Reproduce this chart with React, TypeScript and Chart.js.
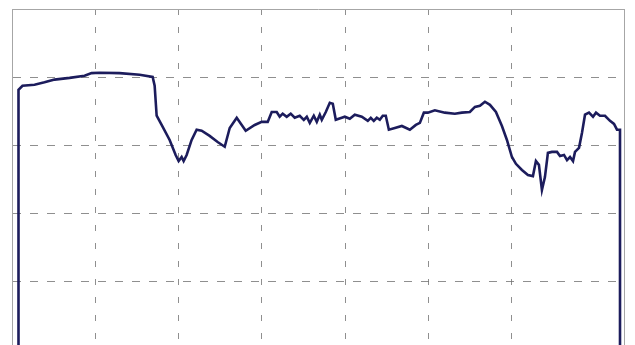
import React, { useEffect, useRef } from "react";
import { Chart, registerables } from "chart.js";

Chart.register(...registerables);

// Sample positions along the horizontal axis
const times: number[] = [
  0.78, 0.78, 1.26, 2.7, 3.9, 5.11, 6.91, 8.71, 9.55, 10.51, 12.91, 15.32, 16.88, 17.12, 17.36, 17.96,
  18.92, 19.64, 20.0, 20.36, 20.6, 20.96, 21.56, 22.16, 22.76, 23.72, 24.68, 25.53, 26.13, 26.97,
  28.05, 29.13, 29.97, 30.69, 31.17, 31.77, 32.13, 32.49, 32.97, 33.45, 33.93, 34.53, 35.02, 35.38,
  35.74, 36.22, 36.58, 36.94, 37.18, 37.66, 38.14, 38.5, 38.86, 39.58, 39.94, 40.54, 41.14, 41.98,
  42.7, 43.06, 43.42, 43.78, 44.14, 44.5, 44.86, 45.23, 45.95, 46.79, 47.75, 48.47, 48.95, 49.43,
  49.91, 50.75, 51.95, 53.15, 53.99, 54.95, 55.56, 56.16, 56.76, 57.36, 58.08, 58.8, 59.4, 60.0,
  60.48, 61.2, 61.92, 62.52, 62.88, 63.24, 63.6, 63.96, 64.32, 64.8, 65.41, 65.77, 66.25, 66.61,
  66.97, 67.33, 67.57, 68.05, 68.41, 68.77, 69.25, 69.73, 70.09, 70.57, 71.17, 71.77, 72.25, 72.61,
  72.97, 72.97,
];

// Measured level at each sample
const levels: number[] = [
  0, 76.3, 77.5, 77.8, 78.5, 79.3, 79.8, 80.4, 81.2, 81.3, 81.2, 80.7, 80.1, 77.5, 68.7, 66.0,
  61.6, 57.2, 55.4, 56.6, 55.4, 57.2, 61.6, 64.6, 64.3, 62.8, 61.0, 59.6, 65.1, 68.1,
  64.3, 66.0, 66.9, 66.9, 69.8, 69.8, 68.4, 69.3, 68.4, 69.3, 68.1, 68.7, 67.5, 68.4,
  66.6, 68.7, 66.9, 69.0, 67.5, 69.8, 72.5, 72.2, 67.5, 68.1, 68.4, 67.8, 69.0, 68.4,
  67.2, 68.1, 67.2, 68.1, 67.5, 68.7, 68.7, 64.6, 65.1, 65.7, 64.6, 66.0, 66.6, 69.6,
  69.6, 70.3, 69.6, 69.3, 69.6, 69.8, 71.3, 71.6, 72.8, 71.9, 69.8, 65.7, 61.6, 56.6,
  54.6, 52.8, 51.3, 51.0, 55.4, 54.3, 46.9, 50.7, 57.8, 58.1, 58.1, 56.9, 57.2, 55.7,
  56.6, 55.4, 58.1, 59.3, 63.7, 69.0, 69.6, 68.4, 69.6, 68.7, 68.7, 67.2, 66.3, 64.6,
  64.6, 0,
];

const X_MIN = 0;
const X_MAX = 73.45;
const X_STEP = 10;
const Y_MIN = 0;
const Y_MAX = 100;
const Y_STEP = 20;

const LINE_COLOR = "#1c1c5c";
const GRID_COLOR = "rgba(115,115,115,0.8)";
const FRAME_COLOR = "#a6a6a6";

export default function App() {
  const canvasRef = useRef<HTMLCanvasElement | null>(null);

  useEffect(() => {
    const canvas = canvasRef.current;
    if (!canvas) return;
    const points = times.map((t, i) => ({ x: t, y: levels[i] }));

    // axes used only to frame the plot on the top and right sides
    const frameAxis = (position: "top" | "right", axis: "x" | "y") => ({
      type: "linear" as const,
      position,
      axis,
      display: true,
      min: 0,
      max: 1,
      ticks: { display: false },
      grid: { display: true, drawOnChartArea: false, drawTicks: false },
      border: { display: true, color: FRAME_COLOR, width: 1 },
    });

    const chart = new Chart(canvas, {
      type: "line",
      data: {
        datasets: [
          {
            data: points,
            borderColor: LINE_COLOR,
            borderWidth: 2.6,
            pointRadius: 0,
            tension: 0,
            fill: false,
            xAxisID: "x",
            yAxisID: "y",
          },
        ],
      },
      options: {
        responsive: false,
        animation: false,
        devicePixelRatio: 1,
        layout: { padding: { left: 12, top: 9, right: 11, bottom: 0 } },
        plugins: { legend: { display: false }, tooltip: { enabled: false } },
        scales: {
          x: {
            type: "linear",
            min: X_MIN,
            max: X_MAX,
            ticks: { display: false, stepSize: X_STEP },
            grid: { color: GRID_COLOR, lineWidth: 1, drawTicks: false },
            border: { display: true, color: FRAME_COLOR, dash: [6, 12] },
          },
          y: {
            type: "linear",
            min: Y_MIN,
            max: Y_MAX,
            ticks: { display: false, stepSize: Y_STEP },
            grid: { color: GRID_COLOR, lineWidth: 1, drawTicks: false },
            border: { display: true, color: FRAME_COLOR, dash: [8, 9] },
          },
          x2: frameAxis("top", "x"),
          y2: frameAxis("right", "y"),
        },
      },
    } as any);

    return () => chart.destroy();
  }, []);

  return (
    <div
      style={{
        position: "fixed",
        left: 0,
        top: 0,
        width: 635,
        height: 345,
        overflow: "hidden",
        background: "#ffffff",
      }}
    >
      <canvas ref={canvasRef} width={635} height={350} style={{ display: "block" }} />
    </div>
  );
}
